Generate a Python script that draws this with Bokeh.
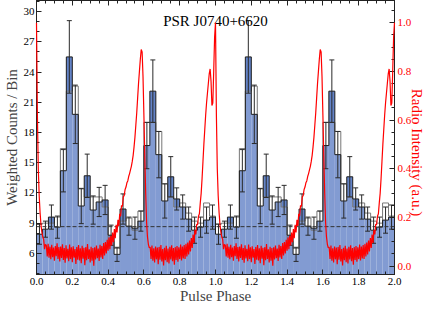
import numpy as np
from bokeh.plotting import figure
from bokeh.models import (Range1d, LinearAxis, ColumnDataSource, Span, Label,
                          FixedTicker, PrintfTickFormatter, CustomJSTickFormatter)
from bokeh.embed import file_html
from bokeh.resources import INLINE

# ---------------- data ----------------
title_text = "PSR J0740+6620"
x_label = "Pulse Phase"
y_label = "Weighted Counts / Bin"
y2_label = "Radio Intensity (a.u.)"

n_bins = 30
counts_a = [7.9, 8.4, 9.6, 8.6, 14.2, 25.5, 19.8, 10.7, 13.7, 10.3,
            11.1, 11.3, 7.8, 5.9, 10.4, 8.7, 8.5, 9.2, 16.7, 22.1,
            15.8, 11.2, 13.6, 11.4, 10.6, 9.4, 8.3, 8.6, 9.3, 9.6]
counts_b = [8.9, 9.0, 9.0, 9.6, 16.4, 22.1, 22.6, 12.4, 11.6, 11.6,
            11.6, 10.6, 7.2, 6.5, 9.2, 9.5, 8.3, 10.2, 19.0, 19.0,
            18.1, 12.9, 11.6, 10.6, 11.0, 10.0, 9.2, 9.0, 11.0, 9.7]
errors = [1.0, 0.8, 1.2, 1.1, 2.1, 3.6, 2.9, 1.75, 2.15, 1.4,
          1.45, 1.45, 1.0, 0.7, 1.5, 0.9, 1.1, 1.0, 2.3, 3.1,
          2.3, 1.7, 2.0, 1.1, 1.2, 1.2, 1.3, 1.0, 1.3, 1.2]
background = 8.65

radio_step = 0.005
radio_intensity = [
    1.00, 0.62, 0.40, 0.29, 0.22, 0.17, 0.14, 0.12, 0.11, 0.07, 0.09,
    0.085, 0.040, 0.092, 0.035, 0.080, 0.028, 0.088, 0.037, 0.076, 0.022,
    0.083, 0.041, 0.094, 0.030, 0.078, 0.019, 0.081, 0.034, 0.090, 0.025,
    0.074, 0.014, 0.086, 0.032, 0.071, 0.020, 0.089, 0.029, 0.077, 0.016,
    0.082, 0.035, 0.070, 0.009, 0.079, 0.026, 0.087, 0.023, 0.073, 0.012,
    0.084, 0.031, 0.075, 0.004, 0.078, 0.024, 0.091, 0.030, 0.069, 0.015,
    0.080, 0.022, 0.074, 0.002, 0.077, 0.027, 0.085, 0.033, 0.072, 0.021,
    0.088, 0.036, 0.083, 0.030, 0.095, 0.044, 0.099, 0.052, 0.108, 0.063,
    0.118, 0.070, 0.125, 0.085, 0.138, 0.098, 0.152, 0.115, 0.170, 0.138,
    0.190, 0.165, 0.215, 0.205, 0.250, 0.245, 0.285, 0.290, 0.315, 0.325,
    0.342, 0.350, 0.368, 0.380, 0.395, 0.410, 0.430, 0.455, 0.490, 0.530,
    0.580, 0.630, 0.690, 0.750, 0.800, 0.850, 0.890, 0.880, 0.780, 0.620,
    0.450, 0.300, 0.180, 0.120, 0.090, 0.075,
    0.078, 0.030, 0.085, 0.022, 0.073, 0.015, 0.081, 0.028, 0.076, 0.008,
    0.079, 0.026, 0.087, 0.019, 0.070, 0.003, 0.075, 0.024, 0.084, 0.016,
    0.072, 0.011, 0.080, 0.027, 0.086, 0.020, 0.074, 0.006, 0.078, 0.025,
    0.083, 0.018, 0.077, 0.029, 0.089, 0.023, 0.081, 0.032, 0.087, 0.030,
    0.092, 0.040, 0.097, 0.048,
    0.105, 0.060, 0.115, 0.075, 0.130, 0.095, 0.148, 0.130, 0.172, 0.170,
    0.205, 0.215, 0.260, 0.300, 0.360, 0.430, 0.500, 0.560, 0.620, 0.670,
    0.710, 0.750, 0.790, 0.810, 0.760, 0.660, 0.670, 0.800, 0.940,
]

x_ticks = [0.0, 0.2, 0.4, 0.6, 0.8, 1.0, 1.2, 1.4, 1.6, 1.8, 2.0]
y_ticks = [6, 9, 12, 15, 18, 21, 24, 27, 30]
y2_ticks = [0.0, 0.2, 0.4, 0.6, 0.8, 1.0]

# ---------------- derived ----------------
n_cycles = 2
left = [k / n_bins for k in range(n_cycles * n_bins)]
right = [(k + 1) / n_bins for k in range(n_cycles * n_bins)]
a_all = counts_a * n_cycles
b_all = counts_b * n_cycles
e_all = errors * n_cycles
mid = [(l + r) / 2 for l, r in zip(left, right)]
src = ColumnDataSource(dict(left=left, right=right, a=a_all, b=b_all, mid=mid,
                            up=[a + e for a, e in zip(a_all, e_all)],
                            lo=[a - e for a, e in zip(a_all, e_all)]))
step_x = left + [right[-1]]
step_a = a_all + [a_all[-1]]
step_b = b_all + [b_all[-1]]

radio_phase = [round(i * radio_step, 4) for i in range(len(radio_intensity))]
radio_x = [ph + c for c in range(n_cycles) for ph in radio_phase] + [float(n_cycles)]
radio_y = radio_intensity * n_cycles + radio_intensity[:1]

FONT = "Liberation Serif"

p = figure(width=428, height=306, x_range=Range1d(0, 2), y_range=Range1d(3.9, 31.1),
           output_backend="svg", toolbar_location=None,
           min_border_left=30, min_border_right=10, min_border_top=0, min_border_bottom=10)
p.extra_y_ranges = {"radio": Range1d(-0.0343, 1.091)}
p.xgrid.visible = False
p.ygrid.visible = False
p.outline_line_color = "#222222"
p.background_fill_color = "white"
p.border_fill_color = "white"

x_minor = [m / 20 for m in range(41)]
y_minor = list(range(4, 32))
y2_minor = [m / 20 for m in range(0, 22)]


def style(ax, ticks, minor):
    ax.ticker = FixedTicker(ticks=ticks, minor_ticks=minor)
    ax.major_tick_in = 5
    ax.major_tick_out = 0
    ax.minor_tick_in = 3
    ax.minor_tick_out = 0
    ax.axis_line_color = "#222222"
    ax.major_tick_line_color = "#222222"
    ax.minor_tick_line_color = "#222222"
    ax.major_label_text_font = FONT
    ax.major_label_text_font_size = "11px"
    ax.major_label_text_color = "black"
    ax.major_label_standoff = 2
    ax.axis_label_text_font = FONT
    ax.axis_label_text_font_size = "15px"
    ax.axis_label_text_font_style = "normal"
    ax.axis_label_standoff = 1


xb = p.xaxis[0]
style(xb, x_ticks, x_minor)
xb.formatter = PrintfTickFormatter(format="%.1f")
xb.axis_label = x_label
xb.major_label_standoff = 3
xb.axis_label_standoff = 0

yl = p.yaxis[0]
style(yl, y_ticks, y_minor)
yl.axis_label = y_label

xt = LinearAxis()
style(xt, x_ticks, x_minor)
xt.formatter = CustomJSTickFormatter(code="return '';")
xt.major_label_standoff = 0
p.add_layout(xt, "above")

yr = LinearAxis(y_range_name="radio")
style(yr, y2_ticks, y2_minor)
yr.formatter = PrintfTickFormatter(format="%.1f")
yr.major_label_text_color = "red"
yr.major_label_standoff = 3
yr.axis_label = "\u00a0" * 8 + y2_label
yr.axis_label_text_color = "red"
yr.axis_label_standoff = -5
p.add_layout(yr, "right")

# histograms
p.quad(left="left", right="right", bottom=0, top="a", source=src,
       fill_color="#6383c7", line_color=None)
p.quad(left="left", right="right", bottom=0, top="b", source=src,
       fill_color="white", fill_alpha=0.2, line_color=None)
p.step(x=step_x, y=step_b, mode="after", line_color="#777777", line_width=1)
p.step(x=step_x, y=step_a, mode="after", line_color="#1c1c1c", line_width=1)

# error bars
p.segment(x0="mid", y0="lo", x1="mid", y1="up", source=src,
          line_color="#2a2a2a", line_width=1)
p.scatter(x="mid", y="up", source=src, marker="dash", size=5,
          line_color="#2a2a2a", line_width=1)
p.scatter(x="mid", y="lo", source=src, marker="dash", size=5,
          line_color="#2a2a2a", line_width=1)

p.add_layout(Span(location=background, dimension="width", line_color="#333333",
                  line_dash="4 2", line_width=1))

rl = p.line(x=radio_x, y=radio_y, y_range_name="radio", line_color="red",
            line_width=1.2)
rl.level = "overlay"

p.add_layout(Label(x=1.0, y=29.1, text=title_text, text_align="center",
                   text_baseline="alphabetic", text_font=FONT, text_font_size="15px",
                   text_color="black"))

open("out.html", "w").write(file_html(p, INLINE))
